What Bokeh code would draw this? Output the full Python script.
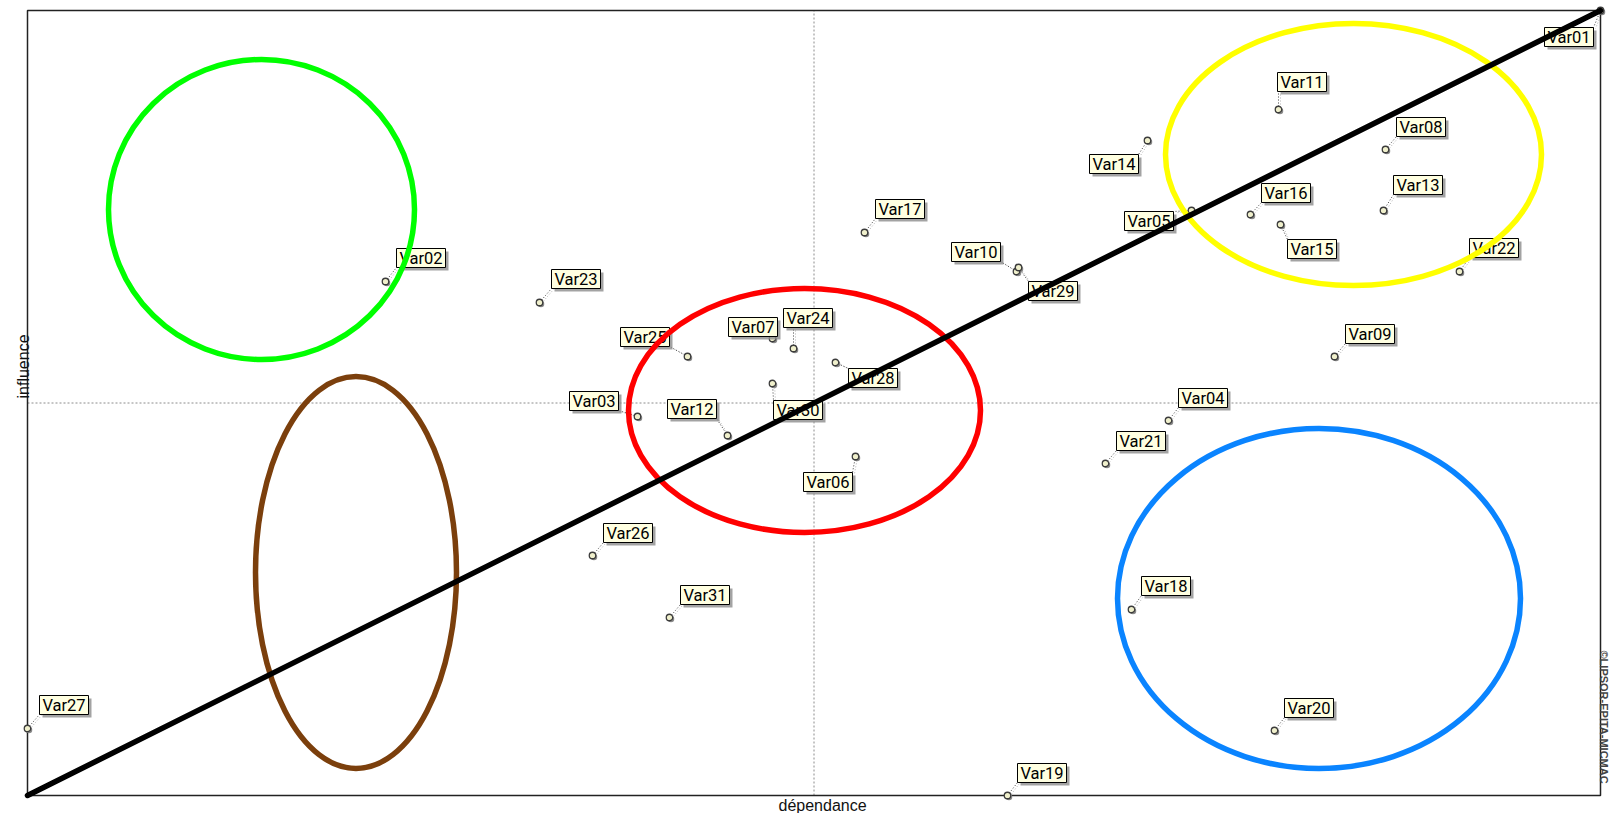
import numpy as np
from bokeh.plotting import figure
from bokeh.models import Range1d, ColumnDataSource
from bokeh.core.properties import value
from bokeh.embed import file_html
from bokeh.resources import INLINE

# ---------------- data ----------------
variables = ["Var01", "Var02", "Var03", "Var04", "Var05", "Var06", "Var07", "Var08",
             "Var09", "Var10", "Var11", "Var12", "Var13", "Var14", "Var15", "Var16",
             "Var17", "Var18", "Var19", "Var20", "Var21", "Var22", "Var23", "Var24",
             "Var25", "Var26", "Var27", "Var28", "Var29", "Var30", "Var31"]
dependance = [1573, 358, 610, 1141, 1164, 828, 745, 1358,
              1307, 989, 1251, 700, 1356, 1120, 1253, 1223,
              837, 1104, 980, 1247, 1078, 1432, 512, 766,
              660, 565, 0, 808, 991, 745, 642]
influence = [785, 514, 379, 375, 585, 339, 457, 646,
             439, 524, 686, 360, 585, 655, 571, 581,
             563, 186, 0, 65, 332, 524, 493, 447,
             439, 240, 67, 433, 528, 412, 178]

# label box placement (offset of the box centre from its point, screen px, +y up)
label_dx = [-31.5, 35.5, -43.5, 34.5, -42.5, -27.5, -19.5, 35.5,
            35.5, -40.5, 23.5, -35.5, 34.5, -33.5, 31.5, 35.5,
            35.5, 34.5, 34.5, 34.5, 35.5, 34.5, 36.5, 14.5,
            -42.5, 35.5, 36.5, 37.5, 34.5, 25.5, 35.5]
label_dy = [-26.5, 23.5, 15.5, 22.5, -10.5, -25.5, 11.5, 22.5,
            22.5, 19.5, 27.5, 26.5, 25.5, -23.5, -24.5, 21.5,
            23.5, 23.5, 22.5, 22.5, 22.5, 23.5, 23.5, 30.5,
            19.5, 22.5, 23.5, -15.5, -23.5, -26.5, 22.5]

# hand-drawn groupings
group_colors = ["#00ff00", "#7b3f0c", "#ff0000", "#ffff00", "#0a84ff"]
group_x = [234, 328.5, 777, 1326, 1291.5]
group_y = [586, 223, 385, 641, 197]
group_w = [306, 201, 352, 376, 403]
group_h = [300, 392, 244, 262, 340]

x_title = "dépendance"
y_title = "influence"
credit = "©LIPSOR-EPITA-MICMAC"

# ---------------- layout ----------------
W, H = 1611, 813
ML, MR, MT, MB = 27, 11, 10, 18          # margins around the chart box, px
x_max = max(dependance)
y_max = max(influence)

p = figure(width=W, height=H,
           x_range=Range1d(-ML, x_max + MR), y_range=Range1d(-MB, y_max + MT),
           x_axis_location=None, y_axis_location=None, toolbar_location=None,
           output_backend="svg", min_border=0)
p.grid.grid_line_color = None
p.outline_line_color = None
p.background_fill_color = "white"
p.border_fill_color = "white"

# centre cross
p.segment(x0=[x_max / 2, 0], y0=[0, y_max / 2], x1=[x_max / 2, x_max], y1=[y_max, y_max / 2],
          line_color="#8c8c8c", line_dash="2 2", line_width=1)

x = np.array(dependance, dtype=float)
y = np.array(influence, dtype=float)
dx = np.array(label_dx)
dy = np.array(label_dy)
BW, BH = 49, 19

bx = x + dx
by = y + dy
ex = np.clip(0, dx - BW / 2, dx + BW / 2)
ey = np.clip(0, dy - BH / 2, dy + BH / 2)

src = ColumnDataSource(dict(
    x=x, y=y, name=variables, bx=bx, by=by,
    sbx=bx + 3, sby=by - 3,
    lx1=x + ex, ly1=y + ey,
    slx0=x + 2, sly0=y - 1, slx1=x + ex + 2, sly1=y + ey - 1,
    px=x + 1.5, py=y - 1.5,
))

# leader lines
p.segment("slx0", "sly0", "slx1", "sly1", source=src, line_color="#b4b4b4",
          line_dash="1 2", line_width=1)
p.segment("x", "y", "lx1", "ly1", source=src, line_color="#404040",
          line_dash="1 2", line_width=1)

# chart box
p.quad(left=[0], right=[x_max], bottom=[0], top=[y_max], fill_color=None,
       line_color="#222222", line_width=1.5)

# points
p.scatter("px", "py", source=src, size=6.5, fill_color="#8a8a8a", line_color=None)
p.scatter("x", "y", source=src, size=6.5, fill_color="#f0f0cc", line_color="#3c3c3c",
          line_width=1.3)
# label boxes
p.rect("sbx", "sby", width=BW, height=BH, width_units="screen", height_units="screen",
       source=src, fill_color="#8c8c8c", fill_alpha=0.8, line_color=None)
p.rect("bx", "by", width=BW, height=BH, width_units="screen", height_units="screen",
       source=src, fill_color="#ffffe1", line_color="black", line_width=1)
p.text("bx", "by", text="name", source=src, text_align="center", text_baseline="middle",
       text_font=value("Roboto"), text_font_size="16.5px", text_color="black")

# groupings
p.ellipse(x=group_x, y=group_y, width=group_w, height=group_h, fill_color=None,
          line_color=group_colors, line_width=5.5)

# diagonal from origin to the max point
i_max = int(np.argmax(x))
p.line([0, x[i_max]], [0, y[i_max]], line_color="black", line_width=5.5, line_cap="round")

# axis titles & credit
p.text(x=[751], y=[-9.5], text=[x_title], text_align="left", text_baseline="alphabetic",
       text_font=value("Liberation Sans"), text_font_size="16px", text_color="#111111")
p.text(x=[-4], y=[397], text=[y_title], angle=np.pi / 2, text_align="left",
       text_baseline="alphabetic", text_font=value("Liberation Sans"),
       text_font_size="16px", text_color="#111111")
p.text(x=[x_max + 3], y=[145], text=[credit], angle=-np.pi / 2, text_align="left",
       text_baseline="alphabetic", text_font=value("Liberation Sans"),
       text_font_size="11px", text_font_style="bold", text_color="#444444")

open("out.html", "w").write(file_html(p, INLINE))
